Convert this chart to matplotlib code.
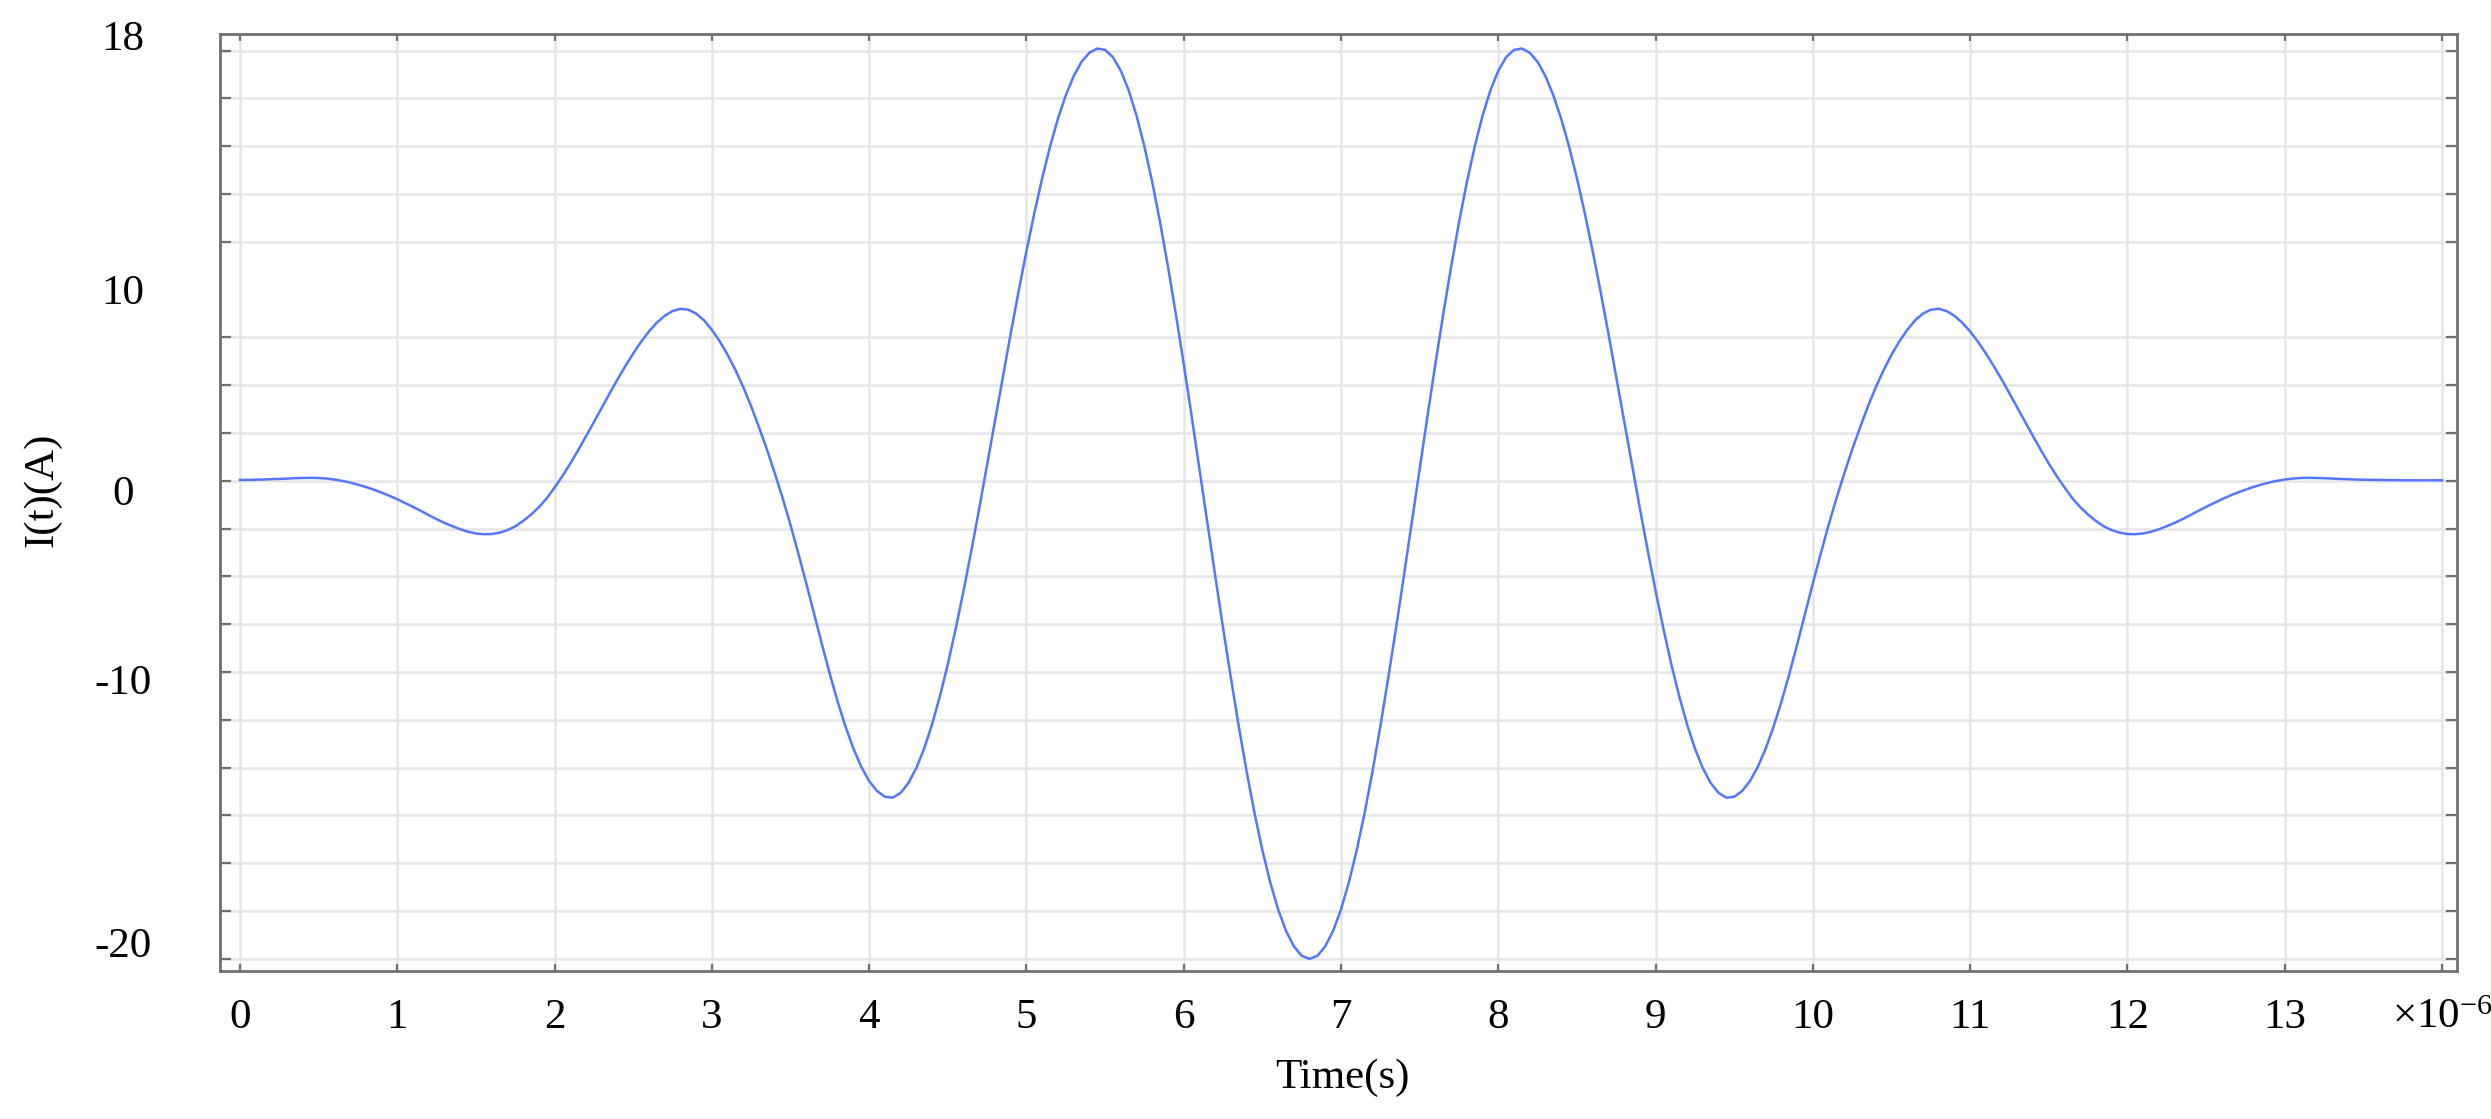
import numpy as np
import matplotlib
matplotlib.use("Agg")
import matplotlib.pyplot as plt
from matplotlib.ticker import MultipleLocator

plt.rcParams["font.family"] = ["Liberation Serif", "DejaVu Serif"]
plt.rcParams["mathtext.fontset"] = "custom"
plt.rcParams["mathtext.rm"] = "Liberation Serif"

# current, one value every 0.05 us from 0 to 14 us
T_STEP_US = 0.05
CURRENT_A = [
    # 0.00 .. 0.95
    0.05, 0.05, 0.06, 0.07, 0.09, 0.10, 0.12, 0.14, 0.15, 0.16,
    0.15, 0.12, 0.07, 0.0, -0.09, -0.2, -0.32, -0.46, -0.61, -0.78,
    # 1.00 .. 1.95
    -0.96, -1.16, -1.36, -1.57, -1.79, -2.0, -2.2, -2.37, -2.53, -2.66,
    -2.75, -2.79, -2.78, -2.71, -2.58, -2.38, -2.1, -1.77, -1.38, -0.92,
    # 2.00 .. 2.95
    -0.35, 0.25, 0.9, 1.6, 2.33, 3.07, 3.82, 4.57, 5.3, 6.0,
    6.66, 7.27, 7.81, 8.27, 8.63, 8.88, 9.0, 8.95, 8.75, 8.4,
    # 3.00 .. 3.95
    7.9, 7.3, 6.6, 5.8, 4.9, 3.9, 2.8, 1.65, 0.4, -0.9,
    -2.3, -3.8, -5.35, -6.95, -8.55, -10.1, -11.55, -12.85, -14.0, -14.95,
    # 4.00 .. 4.95
    -15.7, -16.22, -16.52, -16.57, -16.32, -15.8, -15.02, -14.0, -12.74, -11.26,
    -9.6, -7.75, -5.76, -3.65, -1.44, 0.83, 3.13, 5.43, 7.7, 9.9,
    # 5.00 .. 5.95
    12.01, 13.99, 15.82, 17.48, 18.93, 20.16, 21.16, 21.91, 22.39, 22.61,
    22.54, 22.16, 21.45, 20.43, 19.1, 17.49, 15.62, 13.51, 11.2, 8.72,
    # 6.00 .. 6.95
    6.12, 3.4, 0.63, -2.17, -4.95, -7.69, -10.31, -12.84, -15.2, -17.37,
    -19.31, -21.0, -22.41, -23.53, -24.34, -24.84, -25.0, -24.84, -24.34, -23.53,
    # 7.00 .. 7.95
    -22.41, -21.0, -19.31, -17.37, -15.2, -12.84, -10.31, -7.69, -4.95, -2.17,
    0.63, 3.4, 6.12, 8.72, 11.2, 13.51, 15.62, 17.49, 19.1, 20.43,
    # 8.00 .. 8.95
    21.45, 22.16, 22.54, 22.61, 22.39, 21.91, 21.16, 20.16, 18.93, 17.48,
    15.82, 13.99, 12.01, 9.9, 7.7, 5.43, 3.13, 0.83, -1.44, -3.65,
    # 9.00 .. 9.95
    -5.76, -7.75, -9.6, -11.26, -12.74, -14.0, -15.02, -15.8, -16.32, -16.57,
    -16.52, -16.22, -15.7, -14.95, -14.0, -12.85, -11.55, -10.1, -8.55, -6.95,
    # 10.00 .. 10.95
    -5.35, -3.8, -2.3, -0.9, 0.4, 1.65, 2.8, 3.9, 4.9, 5.8,
    6.6, 7.3, 7.9, 8.4, 8.75, 8.95, 9.0, 8.88, 8.63, 8.27,
    # 11.00 .. 11.95
    7.81, 7.27, 6.66, 6.0, 5.3, 4.57, 3.82, 3.07, 2.33, 1.6,
    0.9, 0.25, -0.35, -0.92, -1.38, -1.77, -2.1, -2.38, -2.58, -2.71,
    # 12.00 .. 12.95
    -2.78, -2.79, -2.75, -2.66, -2.53, -2.37, -2.2, -2.0, -1.79, -1.57,
    -1.36, -1.16, -0.96, -0.78, -0.61, -0.46, -0.32, -0.2, -0.09, 0.0,
    # 13.00 .. 14.00
    0.07, 0.12, 0.15, 0.16, 0.15, 0.14, 0.12, 0.10, 0.09, 0.07,
    0.06, 0.05, 0.05, 0.04, 0.04, 0.03, 0.03, 0.03, 0.03, 0.03,
    0.03,
]
T_US = np.arange(len(CURRENT_A)) * T_STEP_US

X_TICKS = list(range(15))
X_TICK_LABELS = [str(i) for i in range(14)] + [r"$\mathregular{\times10^{-6}}$"]
# y labels sit where the reference put them (not all on a grid line)
Y_LABEL_POS = [23.3, 10.0, -0.5, -10.4, -24.15]
Y_LABELS = ["18", "10", "0", "-10", "-20"]

FS = 31
GRID_C = "#e6e6e6"
SPINE_C = "#707070"

fig = plt.figure(figsize=(24.91, 11.19), dpi=100)
ax = fig.add_axes([0.0883, 0.1325, 0.8980, 0.8371])

ax.plot(T_US, CURRENT_A, color="#5577ff", lw=1.8, zorder=3)

ax.set_xlim(-0.127, 14.094)
ax.set_ylim(-25.62, 23.37)

ax.set_xticks(X_TICKS)
ax.set_xticklabels(X_TICK_LABELS, fontsize=FS)
ax.set_yticks(Y_LABEL_POS)
ax.set_yticklabels(Y_LABELS, fontsize=FS, ha="center")
ax.yaxis.set_minor_locator(MultipleLocator(2.5))

ax.tick_params(axis="x", which="major", direction="in", length=5, width=1.6,
               color=SPINE_C, top=True, bottom=True, pad=20)
ax.tick_params(axis="y", which="major", length=0, pad=70)
ax.tick_params(axis="y", which="minor", direction="in", length=8, width=1.6,
               color=SPINE_C, left=True, right=True)

ax.grid(True, which="major", axis="x", color=GRID_C, lw=1.8, zorder=0)
ax.grid(True, which="minor", axis="y", color=GRID_C, lw=1.8, zorder=0)
ax.set_axisbelow(True)

for s in ax.spines.values():
    s.set_color(SPINE_C); s.set_linewidth(2.0)

ax.set_xlabel("Time(s)", fontsize=FS, va="center")
ax.xaxis.set_label_coords(0.5016, -0.1146)
ax.set_ylabel("I(t)(A)", fontsize=FS, va="center")
ax.yaxis.set_label_coords(-0.0796, 0.5132)

fig.savefig("out.png", dpi=100, facecolor="white")
